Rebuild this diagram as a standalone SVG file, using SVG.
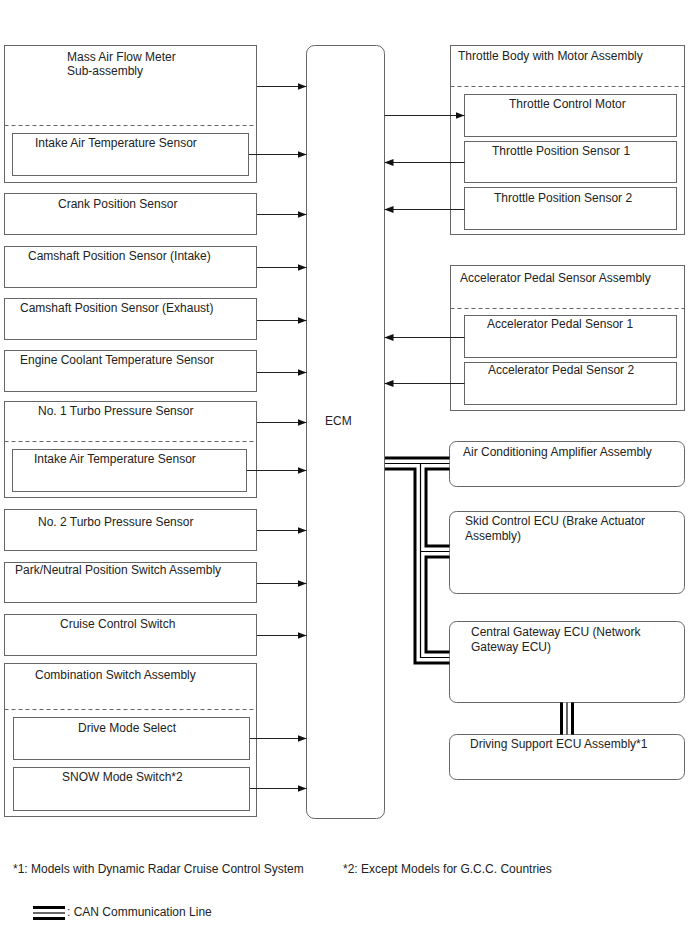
<svg xmlns="http://www.w3.org/2000/svg" width="688" height="949" viewBox="0 0 688 949">
<defs>
<marker id="ah" markerWidth="9" markerHeight="7" refX="9" refY="3.5" orient="auto" markerUnits="userSpaceOnUse">
<path d="M0,0 L9,3.5 L0,7 z" fill="#111"/>
</marker>
<style>
.b{fill:#fff;stroke:#666;stroke-width:1}
.d{stroke:#666;stroke-width:1;stroke-dasharray:4,3;fill:none}
.t{font-family:"Liberation Sans",Arial,sans-serif;font-size:12px;fill:#222}
.a{stroke:#222;stroke-width:1;fill:none;marker-end:url(#ah)}
.c1{stroke:#000;stroke-width:14;fill:none;stroke-linejoin:miter}
.c2{stroke:#fff;stroke-width:8;fill:none;stroke-linejoin:miter}
.c3{stroke:#000;stroke-width:1.2;fill:none;stroke-linejoin:miter}
</style>
</defs>
<rect width="688" height="949" fill="#fff"/>

<g id="maf">
<rect class="b" x="4.5" y="45.5" width="252" height="137"/>
<line class="d" x1="4.5" y1="125.5" x2="256.5" y2="125.5"/>
<text class="t" x="67" y="61">Mass Air Flow Meter</text>
<text class="t" x="67" y="75">Sub-assembly</text>
<rect class="b" x="12.5" y="133.5" width="236" height="42"/>
<text class="t" x="35" y="147">Intake Air Temperature Sensor</text>
</g>
<g id="crank">
<rect class="b" x="4.5" y="193.5" width="252" height="41"/>
<text class="t" x="58" y="208">Crank Position Sensor</text>
</g>
<g id="cam-in">
<rect class="b" x="4.5" y="246.5" width="252" height="41"/>
<text class="t" x="28" y="260">Camshaft Position Sensor (Intake)</text>
</g>
<g id="cam-ex">
<rect class="b" x="4.5" y="298.5" width="252" height="41"/>
<text class="t" x="20" y="312">Camshaft Position Sensor (Exhaust)</text>
</g>
<g id="ect">
<rect class="b" x="4.5" y="350.5" width="252" height="41"/>
<text class="t" x="20" y="364">Engine Coolant Temperature Sensor</text>
</g>
<g id="turbo1">
<rect class="b" x="4.5" y="401.5" width="252" height="96"/>
<line class="d" x1="4.5" y1="441.5" x2="256.5" y2="441.5"/>
<text class="t" x="38" y="415">No. 1 Turbo Pressure Sensor</text>
<rect class="b" x="12.5" y="449.5" width="234" height="42"/>
<text class="t" x="34" y="463">Intake Air Temperature Sensor</text>
</g>
<g id="turbo2">
<rect class="b" x="4.5" y="509.5" width="252" height="41"/>
<text class="t" x="38" y="526">No. 2 Turbo Pressure Sensor</text>
</g>
<g id="pnp">
<rect class="b" x="4.5" y="562.5" width="252" height="40"/>
<text class="t" x="15" y="574">Park/Neutral Position Switch Assembly</text>
</g>
<g id="cruise">
<rect class="b" x="4.5" y="614.5" width="252" height="41"/>
<text class="t" x="60" y="628">Cruise Control Switch</text>
</g>
<g id="combo">
<rect class="b" x="4.5" y="663.5" width="252" height="153"/>
<line class="d" x1="4.5" y1="709.5" x2="256.5" y2="709.5"/>
<text class="t" x="35" y="679">Combination Switch Assembly</text>
<rect class="b" x="13.5" y="717.5" width="236" height="42"/>
<text class="t" x="78" y="732">Drive Mode Select</text>
<rect class="b" x="13.5" y="767.5" width="236" height="43"/>
<text class="t" x="62" y="781">SNOW Mode Switch*2</text>
</g>

<g id="ecm">
<rect class="b" x="306.5" y="45.5" width="78" height="773" rx="8" ry="8"/>
<text class="t" x="325" y="425">ECM</text>
</g>

<g id="throttle">
<rect class="b" x="450.5" y="45.5" width="234" height="189"/>
<line class="d" x1="450.5" y1="86.5" x2="684.5" y2="86.5"/>
<text class="t" x="458" y="60">Throttle Body with Motor Assembly</text>
<rect class="b" x="464.5" y="94.5" width="212" height="42"/>
<text class="t" x="509" y="108">Throttle Control Motor</text>
<rect class="b" x="464.5" y="141.5" width="212" height="41"/>
<text class="t" x="492" y="155">Throttle Position Sensor 1</text>
<rect class="b" x="464.5" y="187.5" width="212" height="42"/>
<text class="t" x="494" y="202">Throttle Position Sensor 2</text>
</g>
<g id="accel">
<rect class="b" x="450.5" y="265.5" width="234" height="145"/>
<line class="d" x1="450.5" y1="308.5" x2="684.5" y2="308.5"/>
<text class="t" x="460" y="282">Accelerator Pedal Sensor Assembly</text>
<rect class="b" x="464.5" y="315.5" width="212" height="42"/>
<text class="t" x="487" y="328">Accelerator Pedal Sensor 1</text>
<rect class="b" x="464.5" y="362.5" width="212" height="42"/>
<text class="t" x="488" y="374">Accelerator Pedal Sensor 2</text>
</g>
<g id="ac">
<rect class="b" x="449.5" y="441.5" width="235" height="45" rx="7" ry="7"/>
<text class="t" x="463" y="456">Air Conditioning Amplifier Assembly</text>
</g>
<g id="skid">
<rect class="b" x="449.5" y="511.5" width="235" height="82" rx="7" ry="7"/>
<text class="t" x="465" y="525">Skid Control ECU (Brake Actuator</text>
<text class="t" x="465" y="540">Assembly)</text>
</g>
<g id="gateway">
<rect class="b" x="449.5" y="621.5" width="235" height="81" rx="7" ry="7"/>
<text class="t" x="471" y="636">Central Gateway ECU (Network</text>
<text class="t" x="471" y="651">Gateway ECU)</text>
</g>
<g id="dsu">
<rect class="b" x="449.5" y="734.5" width="235" height="45" rx="7" ry="7"/>
<text class="t" x="470" y="748">Driving Support ECU Assembly*1</text>
</g>

<g id="connectors">
<line class="a" x1="257" y1="86.5" x2="306.5" y2="86.5"/>
<line class="a" x1="249" y1="154.5" x2="306.5" y2="154.5"/>
<line class="a" x1="257" y1="214.5" x2="306.5" y2="214.5"/>
<line class="a" x1="257" y1="267.5" x2="306.5" y2="267.5"/>
<line class="a" x1="257" y1="320.5" x2="306.5" y2="320.5"/>
<line class="a" x1="257" y1="372.5" x2="306.5" y2="372.5"/>
<line class="a" x1="257" y1="422.5" x2="306.5" y2="422.5"/>
<line class="a" x1="247" y1="470.5" x2="306.5" y2="470.5"/>
<line class="a" x1="257" y1="530.5" x2="306.5" y2="530.5"/>
<line class="a" x1="257" y1="583.5" x2="306.5" y2="583.5"/>
<line class="a" x1="257" y1="635.5" x2="306.5" y2="635.5"/>
<line class="a" x1="250" y1="738.5" x2="306.5" y2="738.5"/>
<line class="a" x1="250" y1="788.5" x2="306.5" y2="788.5"/>
<line class="a" x1="384.5" y1="115.5" x2="464.5" y2="115.5"/>
<line class="a" x1="464.5" y1="162.5" x2="384.5" y2="162.5"/>
<line class="a" x1="464.5" y1="209.5" x2="384.5" y2="209.5"/>
<line class="a" x1="464.5" y1="337.5" x2="384.5" y2="337.5"/>
<line class="a" x1="464.5" y1="383.5" x2="384.5" y2="383.5"/>
<g id="can">
<path class="c1" d="M385,463.5 H449.5 M420.5,463.5 V657.5 H449.5 M420.5,551.5 H449.5 M567,702.5 V734.5"/>
<path class="c2" d="M385,463.5 H449.5 M420.5,463.5 V657.5 H449.5 M420.5,551.5 H449.5 M567,702.5 V734.5"/>
<path class="c3" d="M385,463.5 H449.5 M420.5,463.5 V657.5 H449.5 M420.5,551.5 H449.5 M567,702.5 V734.5"/>
</g>
</g>

<g id="notes">
<text class="t" x="13" y="873">*1: Models with Dynamic Radar Cruise Control System</text>
<text class="t" x="343" y="873">*2: Except Models for G.C.C. Countries</text>
<path class="c1" d="M33,913 H65"/>
<path class="c2" d="M33,913 H65"/>
<path class="c3" d="M33,913 H65"/>
<text class="t" x="67" y="916">: CAN Communication Line</text>
</g>
</svg>
